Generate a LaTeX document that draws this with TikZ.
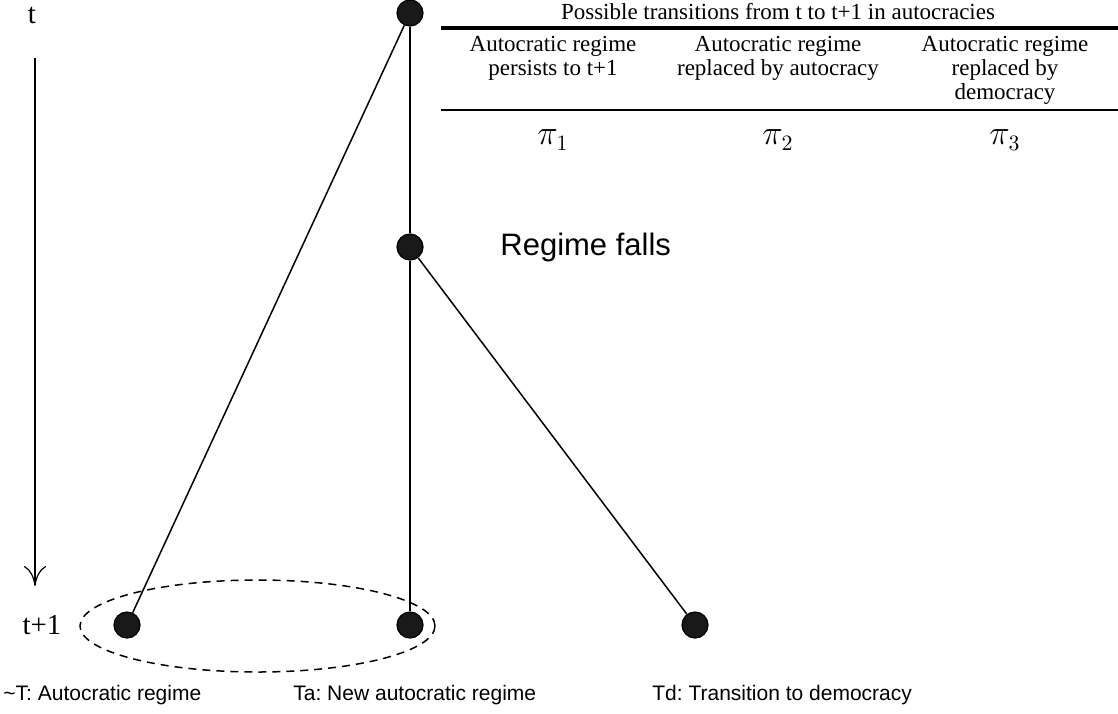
\documentclass[tikz,border=0pt]{standalone}
\usepackage{fontspec}
\setmainfont{Liberation Serif}
\newfontfamily\arialfont{Liberation Sans}
\usetikzlibrary{arrows.meta}
\frenchspacing
\begin{document}
\begin{tikzpicture}[x=0.5pt,y=-0.5pt,
        dot/.style={circle,draw,fill=black!90,line width=0.6pt,inner sep=0pt,minimum size=13pt},
        edge/.style={line width=0.75pt},
        lbl/.style={font=\arialfont\fontsize{10.5}{12}\selectfont,anchor=west,inner sep=0pt},
        time/.style={font=\fontsize{14.5}{16}\selectfont,inner sep=0pt},
        head/.style={font=\fontsize{11.5}{12}\selectfont,align=center,anchor=north,inner sep=0pt},
        prob/.style={font=\fontsize{16}{18}\selectfont,inner sep=0pt}]
        \useasboundingbox (0,0) rectangle (1118,713);
        % time axis
        \node[time] (t) at (32,15) {t};
        \node[time] (t1) at (42,625) {t+1};
        \coordinate (tstart) at (35,58);
        \coordinate (tend) at (35,586);
        \draw[line width=0.6pt,-{To[length=10pt,width=11pt]}] (tstart) -- (tend);
        % tree
        \node[dot] (top) at (410,13) {};
        \node[dot] (fall) at (410,247) {};
        \node[dot] (stay) at (127,625) {};
        \node[dot] (newa) at (410,625) {};
        \node[dot] (demo) at (695,625) {};
        \draw[edge] (top) -- (stay);
        \draw[edge] (top) -- (fall);
        \draw[edge] (fall) -- (newa);
        \draw[edge] (fall) -- (demo);
        \draw[line width=0.75pt,dash pattern=on 4pt off 3pt] (257.5,626) ellipse [x radius=88.75pt,y radius=23pt];
        \node[anchor=west,inner sep=0pt,font=\arialfont\fontsize{15.5}{18}\selectfont] (falls) at (500,247) {Regime falls};
        \node[lbl] (lstay) at (3,695) {\textasciitilde T: Autocratic regime};
        \node[lbl] (lnewa) at (293,695) {Ta: New autocratic regime};
        \node[lbl] (ldemo) at (652,695) {Td: Transition to democracy};
        % table
        \node[font=\fontsize{11.5}{12}\selectfont,inner sep=0pt] (title) at (778,12) {Possible transitions from t to t+1 in autocracies};
        \coordinate (r1a) at (441,28);
        \coordinate (r1b) at (1118,28);
        \coordinate (r2a) at (441,110);
        \coordinate (r2b) at (1118,110);
        \draw[line width=2pt] (r1a) -- (r1b);
        \draw[line width=0.6pt] (r2a) -- (r2b);
        \node[head] (h1) at (553,36) {Autocratic regime\\persists to t+1};
        \node[head] (h2) at (778,36) {Autocratic regime\\replaced by autocracy};
        \node[head] (h3) at (1005,36) {Autocratic regime\\replaced by\\democracy};
        \node[prob] (p1) at (553,140) {$\pi_1$};
        \node[prob] (p2) at (778,140) {$\pi_2$};
        \node[prob] (p3) at (1005,140) {$\pi_3$};
\end{tikzpicture}
\end{document}
